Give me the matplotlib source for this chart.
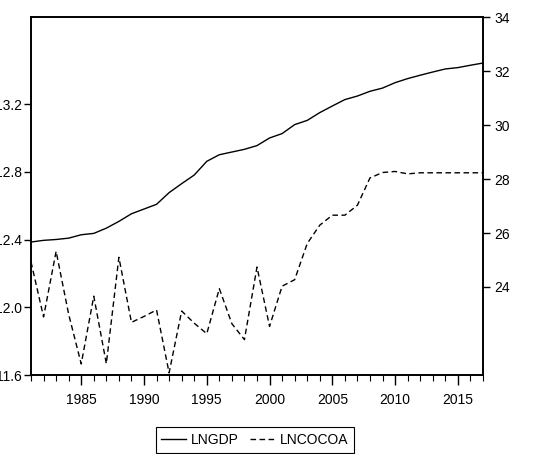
import matplotlib
matplotlib.use('Agg')
import matplotlib.pyplot as plt
from matplotlib.ticker import MultipleLocator, FormatStrFormatter

plt.rcParams['font.family'] = ['Liberation Sans', 'DejaVu Sans']
plt.rcParams['font.size'] = 10

years = list(range(1981, 2018))

# LNGDP (lijeva os)
lngdp = [12.386, 12.396, 12.401, 12.409, 12.429, 12.437, 12.468, 12.508, 12.553, 12.581,
         12.609, 12.678, 12.731, 12.782, 12.863, 12.902, 12.918, 12.934, 12.956, 13.001,
         13.027, 13.080, 13.105, 13.151, 13.190, 13.228, 13.249, 13.277, 13.296, 13.328,
         13.352, 13.372, 13.391, 13.409, 13.417, 13.431, 13.444]

# LNCOCOA (desna os)
lncocoa = [24.93, 22.89, 25.32, 22.99, 21.15, 23.66, 21.16, 25.10, 22.69, 22.91,
           23.15, 20.82, 23.11, 22.66, 22.27, 23.94, 22.64, 22.05, 24.74, 22.54,
           24.03, 24.27, 25.61, 26.29, 26.66, 26.66, 27.03, 28.04, 28.24, 28.28,
           28.19, 28.23, 28.23, 28.23, 28.23, 28.23, 28.23]

left_ticks = [11.6, 12.0, 12.4, 12.8, 13.2]
right_ticks = [24, 26, 28, 30, 32, 34]

fig = plt.figure(figsize=(5.42, 4.54), dpi=100)
ax = fig.add_axes([0.0572, 0.174, 0.8339, 0.7885])
ax2 = ax.twinx()

l1, = ax.plot(years, lngdp, color='black', lw=1.0, label='LNGDP')
l2, = ax2.plot(years, lncocoa, color='black', lw=1.0, linestyle=(0, (4, 2.5)), label='LNCOCOA')

ax.set_xlim(1981, 2017)
ax.set_ylim(11.6, 13.716)
ax2.set_ylim(20.74, 34.0)

ax.set_yticks(left_ticks)
ax.yaxis.set_major_formatter(FormatStrFormatter('%.1f'))
ax2.set_yticks(right_ticks)

ax.xaxis.set_major_locator(MultipleLocator(5))
ax.xaxis.set_minor_locator(MultipleLocator(1))

ax.tick_params(axis='x', which='major', direction='out', length=7, width=1, pad=6)
ax.tick_params(axis='x', which='minor', direction='out', length=4, width=0.8)
ax.tick_params(axis='y', direction='out', length=5, width=1, pad=1.5)
ax2.tick_params(axis='y', direction='out', length=5, width=1, pad=3)

for a in (ax, ax2):
    for s in a.spines.values():
        s.set_linewidth(1.2)

fig.legend([l1, l2], ['LNGDP', 'LNCOCOA'], loc='center', bbox_to_anchor=(255 / 542, 1 - 440 / 454),
           ncol=2, frameon=True, fancybox=False, edgecolor='black', framealpha=1,
           handlelength=1.8, handletextpad=0.35, columnspacing=0.8, borderpad=0.4)
fig.legends[0].get_frame().set_linewidth(0.8)

plt.savefig('out.png', dpi=100)
